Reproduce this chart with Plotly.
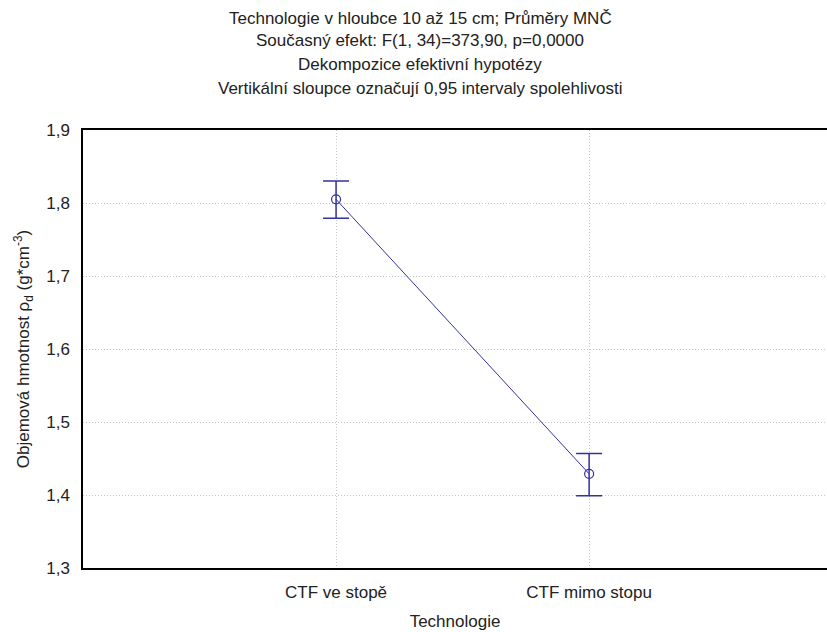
import plotly.graph_objects as go

categories = ["CTF ve stopě", "CTF mimo stopu"]
means = [1.805, 1.429]
ci_upper = [1.830, 1.457]
ci_lower = [1.779, 1.399]
title_lines = [
    "Technologie v hloubce 10 až 15 cm; Průměry MNČ",
    "Současný efekt: F(1, 34)=373,90, p=0,0000",
    "Dekompozice efektivní hypotézy",
    "Vertikální sloupce označují 0,95 intervaly spolehlivosti",
]
y_ticks = [1.3, 1.4, 1.5, 1.6, 1.7, 1.8, 1.9]

xpos = [1, 2]
err_plus = [u - m for u, m in zip(ci_upper, means)]
err_minus = [m - l for m, l in zip(means, ci_lower)]

col = "#3232A0"
fig = go.Figure()
fig.add_trace(go.Scatter(
    x=xpos, y=means, mode="lines+markers",
    line=dict(color=col, width=1),
    marker=dict(symbol="circle-open", size=9, color=col, line=dict(width=1.2, color=col)),
    error_y=dict(type="data", symmetric=False, array=err_plus, arrayminus=err_minus,
                 color=col, thickness=1.5, width=13),
    showlegend=False,
))

font = dict(family="Liberation Sans, Arial", size=17, color="#222222")
grid = "#c4c4c4"
fig.update_layout(
    width=827, height=632,
    margin=dict(l=83, r=0, t=130, b=64),
    paper_bgcolor="white", plot_bgcolor="white",
    separators=", ",
    font=font,
    xaxis=dict(
        range=[0, 2.94], tickvals=xpos, ticktext=categories,
        showgrid=True, gridcolor=grid, griddash="1px,2px", gridwidth=1,
        showline=True, linecolor="black", linewidth=1.5, mirror=True,
        ticks="", zeroline=False, ticklabelstandoff=8,
        title=dict(text="Technologie", standoff=14, font=font),
    ),
    yaxis=dict(
        range=[1.3, 1.9], tickvals=y_ticks, tickformat=".1f",
        showgrid=True, gridcolor=grid, griddash="1px,2px", gridwidth=1,
        showline=True, linecolor="black", linewidth=1.5,
        ticks="", zeroline=False, ticklabelstandoff=8,
        title=dict(text="Objemová hmotnost ρ<sub>d</sub> (g*cm<sup>-3</sup>)", standoff=12, font=font),
    ),
)
ys = [18, 41, 64, 88]
for t, yy in zip(title_lines, ys):
    fig.add_annotation(text=t, xref="paper", yref="paper", x=(420 - 83) / 744,
                       y=1 + (130 - yy) / 438,
                       xanchor="center", yanchor="middle", showarrow=False, font=font)

fig.write_html("out.html")
